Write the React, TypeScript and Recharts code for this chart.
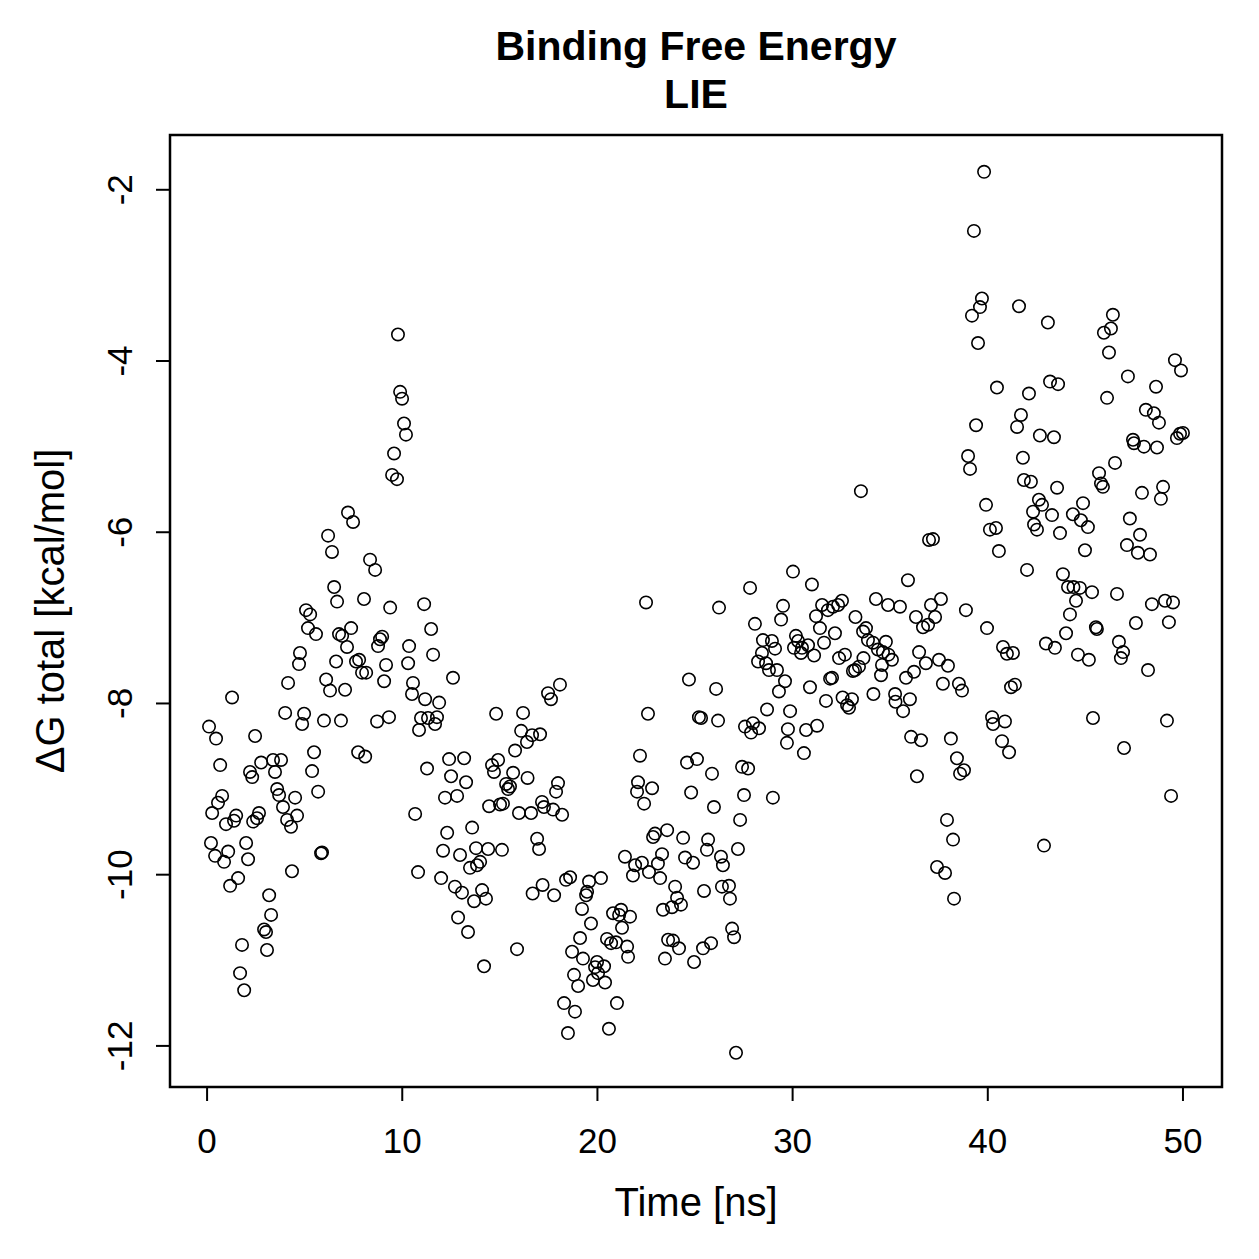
import { ReferenceArea, Scatter, ScatterChart, XAxis, YAxis } from "recharts";

// Binding free energy (LIE) vs. simulation time.

const FONT = '"Liberation Sans", Arial, Helvetica, sans-serif';

const TITLE = "Binding Free Energy";
const SUBTITLE = "LIE";
const X_LABEL = "Time [ns]";
const Y_LABEL = "ΔG total [kcal/mol]";

const xTicks = [0, 10, 20, 30, 40, 50];
const yTicks = [-12, -10, -8, -6, -4, -2];

// 0 – 8.4 ns
const timeA = [
  0.1, 0.2, 0.26, 0.41, 0.46, 0.56, 0.67, 0.77, 0.87, 0.97,
  1.08, 1.18, 1.28, 1.38, 1.49, 1.59, 1.69, 1.79, 1.9, 2.0,
  2.1, 2.2, 2.31, 2.36, 2.46, 2.56, 2.66, 2.77, 2.92, 3.02,
  3.07, 3.18, 3.28, 3.38, 3.48, 3.59, 3.69, 3.79, 3.89, 4.0,
  4.1, 4.15, 4.3, 4.35, 4.51, 4.61, 4.71, 4.76, 4.87, 4.97,
  5.07, 5.17, 5.28, 5.38, 5.48, 5.58, 5.69, 5.84, 5.89, 5.99,
  6.1, 6.2, 6.3, 6.4, 6.51, 6.61, 6.66, 6.76, 6.86, 6.92,
  7.07, 7.17, 7.22, 7.38, 7.48, 7.63, 7.74, 7.79, 7.94, 8.04,
  8.1, 8.15, 8.35,
];
const energyA = [
  -8.27, -9.63, -9.28, -9.78, -8.41, -9.16, -8.72, -9.08, -9.85, -9.41,
  -9.73, -10.13, -7.93, -9.37, -9.31, -10.04, -11.15, -10.82, -11.35, -9.63,
  -9.82, -8.8, -8.86, -9.38, -8.38, -9.34, -9.28, -8.69, -10.64, -10.67,
  -10.88, -10.24, -10.47, -8.66, -8.8, -9.0, -9.07, -8.66, -9.21, -8.11,
  -9.36, -7.76, -9.44, -9.96, -9.1, -9.31, -7.54, -7.41, -8.24, -8.12,
  -6.91, -7.12, -6.96, -8.79, -8.57, -7.19, -9.03, -9.75, -9.74, -8.2,
  -7.72, -6.04, -7.85, -6.23, -6.64, -7.51, -6.81, -7.19, -8.2, -7.21,
  -7.84, -7.34, -5.77, -7.12, -5.88, -7.51, -8.57, -7.49, -7.64, -6.78,
  -8.62, -7.64, -6.32,
];

// 8.6 – 17.3 ns
const timeB = [
  8.61, 8.71, 8.76, 8.86, 8.97, 9.07, 9.17, 9.32, 9.38, 9.48,
  9.58, 9.73, 9.78, 9.89, 9.99, 10.09, 10.19, 10.3, 10.35, 10.5,
  10.55, 10.66, 10.81, 10.86, 10.96, 11.12, 11.17, 11.27, 11.32, 11.48,
  11.58, 11.68, 11.78, 11.89, 11.99, 12.09, 12.19, 12.3, 12.4, 12.5,
  12.6, 12.7, 12.81, 12.86, 12.96, 13.06, 13.17, 13.27, 13.37, 13.47,
  13.58, 13.68, 13.78, 13.83, 13.99, 14.09, 14.19, 14.29, 14.4, 14.45,
  14.6, 14.7, 14.81, 14.91, 15.01, 15.11, 15.16, 15.32, 15.42, 15.52,
  15.68, 15.78, 15.88, 15.98, 16.09, 16.19, 16.39, 16.42, 16.6, 16.65,
  16.68, 16.91, 17.01, 17.06, 17.16, 17.19, 17.26,
];
const energyB = [
  -6.44, -8.21, -7.33, -7.25, -7.22, -7.74, -7.55, -8.16, -6.88, -5.33,
  -5.08, -5.38, -3.69, -4.36, -4.44, -4.73, -4.86, -7.53, -7.33, -7.89,
  -7.76, -9.29, -9.97, -8.31, -8.17, -6.84, -7.95, -8.76, -8.17, -7.13,
  -7.43, -8.24, -8.16, -7.99, -10.04, -9.72, -9.1, -9.51, -8.65, -8.85,
  -7.7, -10.14, -9.08, -10.5, -9.77, -10.21, -8.64, -8.92, -10.67, -9.92,
  -9.45, -10.31, -9.69, -9.89, -9.85, -10.18, -11.07, -10.28, -9.7, -9.2,
  -8.72, -8.8, -8.12, -8.66, -9.18, -9.71, -9.17, -8.94, -9.0, -8.97,
  -8.81, -8.55, -10.87, -9.28, -8.32, -8.11, -8.45, -8.87, -9.28, -8.37,
  -10.22, -9.58, -9.7, -8.36, -9.15, -10.12, -9.21,
];

// 17.4 – 26.5 ns
const timeC = [
  17.47, 17.62, 17.73, 17.78, 17.88, 17.98, 18.08, 18.19, 18.29, 18.39,
  18.49, 18.6, 18.7, 18.8, 18.85, 19.01, 19.11, 19.21, 19.26, 19.42,
  19.47, 19.57, 19.67, 19.77, 19.88, 19.98, 20.03, 20.18, 20.34, 20.39,
  20.49, 20.59, 20.7, 20.8, 20.95, 21.0, 21.11, 21.21, 21.26, 21.41,
  21.52, 21.57, 21.67, 21.82, 21.93, 22.03, 22.08, 22.18, 22.28, 22.39,
  22.49, 22.59, 22.64, 22.8, 22.85, 22.95, 23.1, 23.21, 23.31, 23.36,
  23.46, 23.57, 23.62, 23.82, 23.87, 23.98, 24.08, 24.18, 24.28, 24.39,
  24.49, 24.59, 24.69, 24.8, 24.9, 24.95, 25.1, 25.2, 25.31, 25.41,
  25.46, 25.61, 25.67, 25.82, 25.87, 25.97, 26.08, 26.18, 26.23, 26.33,
  26.38, 26.43,
];
const energyC = [
  -7.88, -7.95, -9.24, -10.24, -9.03, -8.93, -7.78, -9.3, -11.5, -10.06,
  -11.85, -10.03, -10.9, -11.17, -11.6, -11.3, -10.74, -10.4, -10.98, -10.24,
  -10.2, -10.08, -10.57, -11.23, -11.08, -11.02, -11.15, -10.04, -11.07, -11.26,
  -10.75, -11.8, -10.8, -10.45, -10.79, -11.5, -10.47, -10.41, -10.62, -9.79,
  -10.84, -10.96, -10.49, -10.01, -9.89, -9.03, -8.92, -8.61, -9.86, -9.17,
  -6.82, -8.12, -9.97, -8.99, -9.56, -9.52, -9.87, -10.04, -9.76, -10.41,
  -10.98, -9.48, -10.76, -10.38, -10.77, -10.14, -10.27, -10.86, -10.35, -9.57,
  -9.8, -8.69, -7.72, -9.04, -9.86, -11.02, -8.65, -8.16, -8.17, -10.86,
  -10.19, -9.71, -9.59, -10.8, -8.82, -9.21, -7.83, -8.2, -6.88, -9.79,
  -10.14, -9.89,
];

// 26.7 – 35.3 ns
const timeD = [
  26.74, 26.79, 26.9, 27.0, 27.1, 27.2, 27.31, 27.41, 27.51, 27.56,
  27.72, 27.82, 27.87, 27.97, 28.07, 28.23, 28.28, 28.43, 28.48, 28.64,
  28.69, 28.79, 28.94, 28.99, 29.1, 29.2, 29.3, 29.41, 29.51, 29.61,
  29.71, 29.76, 29.87, 30.02, 30.07, 30.17, 30.28, 30.43, 30.48, 30.58,
  30.69, 30.79, 30.89, 30.99, 31.1, 31.2, 31.25, 31.4, 31.51, 31.61,
  31.71, 31.81, 31.92, 32.02, 32.07, 32.17, 32.33, 32.38, 32.53, 32.56,
  32.68, 32.79, 32.89, 33.04, 33.09, 33.2, 33.22, 33.4, 33.5, 33.61,
  33.63, 33.76, 33.86, 34.12, 34.14, 34.27, 34.37, 34.53, 34.58, 34.63,
  34.78, 34.89, 34.91, 35.09, 35.25, 35.27,
];
const energyD = [
  -10.13, -10.28, -10.63, -10.73, -12.08, -9.7, -9.36, -8.74, -9.07, -8.27,
  -8.76, -6.65, -8.34, -8.23, -7.07, -7.51, -8.29, -7.41, -7.26, -7.53,
  -8.07, -7.61, -7.27, -9.1, -7.36, -7.61, -7.86, -7.02, -6.86, -7.74,
  -8.46, -8.3, -8.09, -6.46, -7.35, -7.21, -7.27, -7.41, -7.35, -8.58,
  -8.31, -7.32, -7.81, -6.61, -7.44, -6.98, -8.26, -7.12, -6.85, -7.29,
  -7.97, -6.91, -7.71, -7.7, -6.87, -7.18, -6.85, -7.47, -6.8, -7.93,
  -7.43, -8.02, -8.05, -7.95, -7.62, -7.61, -6.99, -7.57, -5.52, -7.16,
  -7.47, -7.12, -7.26, -7.29, -7.89, -6.78, -7.37, -7.67, -7.55, -7.4,
  -7.28, -6.85, -7.43, -7.49, -7.89, -7.98,
];

// 35.5 – 43.7 ns
const timeE = [
  35.5, 35.66, 35.81, 35.91, 36.01, 36.07, 36.22, 36.32, 36.37, 36.48,
  36.58, 36.68, 36.83, 36.94, 36.99, 37.09, 37.19, 37.3, 37.4, 37.5,
  37.6, 37.7, 37.81, 37.91, 37.96, 38.11, 38.22, 38.27, 38.42, 38.52,
  38.58, 38.68, 38.78, 38.88, 38.99, 39.09, 39.19, 39.29, 39.4, 39.5,
  39.6, 39.7, 39.81, 39.91, 39.96, 40.11, 40.22, 40.27, 40.42, 40.47,
  40.57, 40.73, 40.78, 40.88, 40.98, 41.09, 41.19, 41.29, 41.39, 41.5,
  41.6, 41.7, 41.8, 41.85, 42.01, 42.11, 42.21, 42.32, 42.37, 42.52,
  42.62, 42.67, 42.78, 42.88, 42.98, 43.08, 43.19, 43.29, 43.39, 43.44,
  43.55, 43.6, 43.7,
];
const energyE = [
  -6.87, -8.09, -7.7, -6.56, -7.95, -8.39, -7.63, -6.99, -8.85, -7.4,
  -8.43, -7.11, -7.53, -7.08, -6.09, -6.85, -6.08, -6.99, -9.91, -7.49,
  -6.78, -7.77, -9.98, -9.36, -7.56, -8.41, -9.59, -10.28, -8.64, -7.77,
  -8.82, -7.85, -8.78, -6.91, -5.11, -5.26, -3.47, -2.48, -4.75, -3.79,
  -3.37, -3.27, -1.79, -5.68, -7.12, -5.97, -8.16, -8.24, -5.95, -4.31,
  -6.22, -8.44, -7.34, -8.21, -7.42, -8.57, -7.81, -7.41, -7.78, -4.77,
  -3.36, -4.63, -5.13, -5.39, -6.44, -4.38, -5.41, -5.76, -5.91, -5.97,
  -5.62, -4.87, -5.68, -9.66, -7.3, -3.55, -4.24, -5.8, -4.89, -7.35,
  -5.48, -4.27, -6.01,
];

// 43.8 – 50 ns
const timeF = [
  43.85, 44.01, 44.11, 44.21, 44.36, 44.39, 44.52, 44.62, 44.72, 44.77,
  44.88, 44.98, 45.13, 45.18, 45.34, 45.39, 45.54, 45.59, 45.7, 45.8,
  45.9, 45.95, 46.11, 46.21, 46.31, 46.41, 46.52, 46.62, 46.72, 46.82,
  46.93, 46.98, 47.13, 47.18, 47.28, 47.44, 47.49, 47.59, 47.69, 47.8,
  47.9, 48.0, 48.1, 48.21, 48.31, 48.41, 48.51, 48.62, 48.67, 48.77,
  48.87, 48.98, 49.08, 49.18, 49.28, 49.39, 49.49, 49.59, 49.69, 49.85,
  49.9, 50.0,
];
const energyF = [
  -6.49, -7.18, -6.64, -6.96, -5.79, -6.64, -6.8, -7.43, -6.65, -5.86,
  -5.66, -6.21, -5.94, -7.49, -6.7, -8.17, -7.11, -7.13, -5.31, -5.43,
  -5.47, -3.67, -4.43, -3.9, -3.62, -3.46, -5.19, -6.72, -7.28, -7.47,
  -7.4, -8.52, -6.15, -4.18, -5.84, -4.92, -4.96, -7.06, -6.24, -6.03,
  -5.54, -5.0, -4.57, -7.61, -6.26, -6.84, -4.61, -4.3, -5.01, -4.72,
  -5.61, -5.47, -6.8, -8.2, -7.05, -9.08, -6.82, -3.99, -4.9, -4.85,
  -4.11, -4.84,
];

const segments: [number[], number[]][] = [
  [timeA, energyA],
  [timeB, energyB],
  [timeC, energyC],
  [timeD, energyD],
  [timeE, energyE],
  [timeF, energyF],
];

const points = segments.flatMap(([ts, es]) =>
  ts.map((t, i) => ({ t, dG: es[i] }))
);

// R's default 4% padding around the data range
const X_DOMAIN: [number, number] = [-1.9, 52];
const Y_DOMAIN: [number, number] = [-12.48, -1.36];

function OpenCircle(props: any) {
  const { cx, cy } = props;
  if (cx == null || cy == null) return null;
  return (
    <circle cx={cx} cy={cy} r={6.2} fill="none" stroke="#000" strokeWidth={1.6} />
  );
}

function XTick(props: any) {
  const { x, y, payload } = props;
  return (
    <text
      x={x}
      y={y + 37}
      textAnchor="middle"
      dominantBaseline="central"
      fontSize={35}
      fontFamily={FONT}
      fill="#000"
    >
      {payload.value}
    </text>
  );
}

function YTick(props: any) {
  const { x, y, payload } = props;
  const tx = x - 34;
  return (
    <text
      x={tx}
      y={y}
      transform={`rotate(-90, ${tx}, ${y})`}
      textAnchor="middle"
      dominantBaseline="central"
      fontSize={35}
      fontFamily={FONT}
      fill="#000"
    >
      {payload.value}
    </text>
  );
}

export default function App() {
  return (
    <div
      style={{
        position: "absolute",
        left: 0,
        top: 0,
        width: 1259,
        height: 1259,
        background: "#fff",
        fontFamily: FONT,
      }}
    >
      <div
        style={{
          position: "absolute",
          left: 170,
          width: 1052,
          top: 22,
          textAlign: "center",
          fontWeight: "bold",
          fontSize: 41,
          lineHeight: "48px",
        }}
      >
        <div>{TITLE}</div>
        <div>{SUBTITLE}</div>
      </div>

      <ScatterChart
        width={1259}
        height={1259}
        margin={{ top: 135, right: 37, bottom: 0, left: 0 }}
      >
        <XAxis
          type="number"
          dataKey="t"
          domain={X_DOMAIN}
          ticks={xTicks}
          allowDataOverflow
          height={172}
          axisLine={false}
          tickSize={14}
          tickLine={{ stroke: "#000", strokeWidth: 2 }}
          tick={<XTick />}
          interval={0}
        />
        <YAxis
          type="number"
          dataKey="dG"
          domain={Y_DOMAIN}
          ticks={yTicks}
          allowDataOverflow
          width={170}
          axisLine={false}
          tickSize={14}
          tickLine={{ stroke: "#000", strokeWidth: 2 }}
          tick={<YTick />}
          interval={0}
        />
        <ReferenceArea
          x1={X_DOMAIN[0]}
          x2={X_DOMAIN[1]}
          y1={Y_DOMAIN[0]}
          y2={Y_DOMAIN[1]}
          fill="none"
          stroke="#000"
          strokeWidth={2.5}
          ifOverflow="visible"
        />
        <Scatter
          data={points}
          shape={<OpenCircle />}
          isAnimationActive={false}
        />
      </ScatterChart>

      <div
        style={{
          position: "absolute",
          left: 170,
          width: 1052,
          top: 1179,
          textAlign: "center",
          fontSize: 40,
          lineHeight: "46px",
        }}
      >
        {X_LABEL}
      </div>
      <div
        style={{
          position: "absolute",
          left: 50,
          top: 611,
          transform: "translate(-50%, -50%) rotate(-90deg)",
          whiteSpace: "nowrap",
          fontSize: 40,
          lineHeight: "46px",
        }}
      >
        {Y_LABEL}
      </div>
    </div>
  );
}
